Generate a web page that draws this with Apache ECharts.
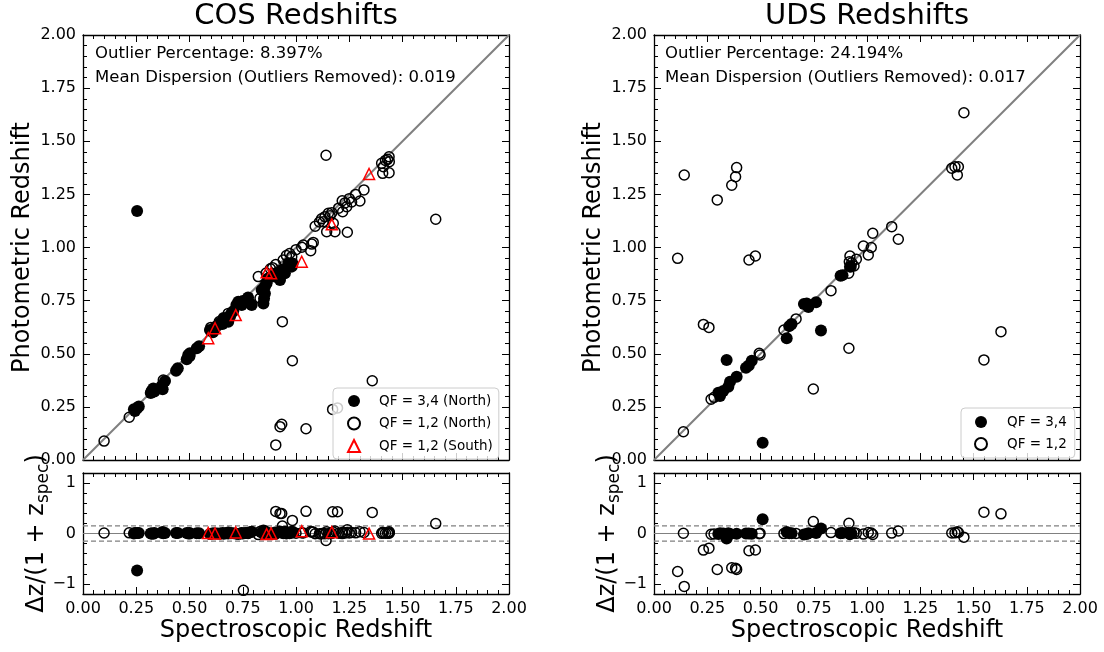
<!DOCTYPE html>
<html>
<head>
<meta charset="utf-8">
<title>COS / UDS Redshifts</title>
<script src="https://cdn.jsdelivr.net/npm/echarts@6/dist/echarts.min.js"></script>
<style>
  html, body { margin: 0; padding: 0; background: #ffffff; }
  #chart { width: 1104px; height: 652px; }
</style>
</head>
<body>
<div id="chart"></div>
<script>
// Each point is [spectroscopic z, photometric z]

// COS, QF = 3,4 (North)
const cosNorthHigh = [
  [0.254, 1.172],
  [0.244, 0.231], [0.239, 0.239], [0.255, 0.245], [0.262, 0.252],
  [0.318, 0.315], [0.322, 0.325], [0.330, 0.337], [0.335, 0.322], [0.374, 0.333], [0.369, 0.348], [0.385, 0.372],
  [0.437, 0.420], [0.445, 0.432],
  [0.487, 0.474], [0.494, 0.494], [0.500, 0.488], [0.502, 0.502],
  [0.534, 0.526], [0.545, 0.535],
  [0.596, 0.612], [0.610, 0.601], [0.620, 0.624], [0.630, 0.632], [0.643, 0.646], [0.655, 0.640],
  [0.660, 0.668], [0.667, 0.659], [0.675, 0.668], [0.682, 0.651], [0.690, 0.675], [0.695, 0.688], [0.705, 0.700],
  [0.720, 0.730], [0.729, 0.745], [0.740, 0.738], [0.745, 0.729], [0.750, 0.748], [0.761, 0.745], [0.770, 0.752],
  [0.775, 0.765], [0.784, 0.737], [0.792, 0.729],
  [0.839, 0.800], [0.847, 0.737], [0.850, 0.760], [0.854, 0.784], [0.854, 0.816], [0.862, 0.832], [0.870, 0.855],
  [0.901, 0.863], [0.910, 0.880], [0.925, 0.847], [0.933, 0.894], [0.948, 0.879], [0.964, 0.926], [0.980, 0.910],
  [0.984, 0.925]
];

// COS, QF = 1,2 (North)
const cosNorthLow = [
  [0.099, 0.089], [0.217, 0.201], [0.377, 0.376], [0.600, 0.624], [0.640, 0.652], [0.682, 0.690],
  [0.823, 0.863], [0.831, 0.761], [0.936, 0.651], [0.983, 0.467],
  [0.905, 0.071], [0.925, 0.157], [0.933, 0.168], [1.047, 0.147], [1.172, 0.238], [1.195, 0.245],
  [1.358, 0.373], [0.753, 2.730],
  [0.860, 0.880], [0.880, 0.900], [0.890, 0.905], [0.905, 0.920], [0.940, 0.941], [0.955, 0.962],
  [0.970, 0.972], [0.980, 0.957], [1.000, 0.990],
  [1.027, 1.001], [1.034, 1.012], [1.069, 0.985], [1.074, 1.016], [1.081, 1.024], [1.090, 1.100],
  [1.110, 1.120], [1.120, 1.135], [1.128, 1.121], [1.136, 1.145], [1.144, 1.074], [1.152, 1.161],
  [1.160, 1.150], [1.168, 1.164], [1.175, 1.114], [1.183, 1.074],
  [1.200, 1.185], [1.217, 1.220], [1.219, 1.168], [1.230, 1.210], [1.238, 1.192], [1.241, 1.072],
  [1.250, 1.230], [1.261, 1.214], [1.280, 1.250], [1.300, 1.219], [1.319, 1.271],
  [1.141, 1.434],
  [1.402, 1.396], [1.407, 1.349], [1.410, 1.380], [1.420, 1.410], [1.430, 1.415], [1.437, 1.427],
  [1.438, 1.404], [1.437, 1.352],
  [1.656, 1.133]
];

// COS, QF = 1,2 (South)
const cosSouthLow = [
  [0.588, 0.573], [0.620, 0.620], [0.717, 0.682], [0.862, 0.883],
  [0.883, 0.879], [1.027, 0.933], [1.168, 1.109], [1.343, 1.346]
];

// UDS, QF = 3,4
const udsHigh = [
  [0.302, 0.317], [0.310, 0.301], [0.325, 0.325], [0.341, 0.471], [0.349, 0.345], [0.357, 0.368],
  [0.388, 0.392], [0.432, 0.434], [0.445, 0.445], [0.459, 0.467], [0.510, 0.081], [0.623, 0.573],
  [0.635, 0.630], [0.646, 0.640], [0.704, 0.734], [0.717, 0.737], [0.725, 0.720], [0.761, 0.742],
  [0.784, 0.609], [0.876, 0.867], [0.885, 0.870], [0.920, 0.910]
];

// UDS, QF = 1,2
const udsLow = [
  [0.111, 0.949], [0.138, 0.133], [0.142, 1.341], [0.232, 0.638], [0.258, 0.624], [0.268, 0.286],
  [0.282, 0.295], [0.297, 1.224], [0.365, 1.293], [0.383, 1.333], [0.388, 1.376], [0.446, 0.941],
  [0.476, 0.960], [0.494, 0.502], [0.498, 0.494], [0.610, 0.612], [0.667, 0.664], [0.748, 0.334],
  [0.831, 0.797], [0.914, 0.879], [0.915, 0.526], [0.917, 0.933], [0.920, 0.960], [0.925, 0.910],
  [0.928, 0.928], [0.939, 0.913], [0.950, 0.945], [0.983, 1.007], [1.006, 0.965], [1.020, 1.000],
  [1.027, 1.067], [1.116, 1.098], [1.147, 1.039], [1.398, 1.373], [1.413, 1.380], [1.424, 1.341],
  [1.429, 1.380], [1.455, 1.634], [1.549, 0.471], [1.629, 0.604]
];

const cosTitle = 'COS Redshifts';
const udsTitle = 'UDS Redshifts';
const cosStats = ['Outlier Percentage: 8.397%', 'Mean Dispersion (Outliers Removed): 0.019'];
const udsStats = ['Outlier Percentage: 24.194%', 'Mean Dispersion (Outliers Removed): 0.017'];
const cosNames = ['QF = 3,4 (North)', 'QF = 1,2 (North)', 'QF = 1,2 (South)'];
const udsNames = ['QF = 3,4', 'QF = 1,2'];
const xName = 'Spectroscopic Redshift';
const yName = 'Photometric Redshift';
const residTicks = [-1, 0, 1];
const outlierCut = 0.15;

// dz / (1 + z_spec), with dz = z_spec - z_phot
function residuals(pts) {
  return pts.map(([zs, zp]) => [zs, (zs - zp) / (1 + zs)]);
}

const FONT = 'DejaVu Sans';
const BLACK = '#000000';
const GREY = '#808080';
const RED = '#ff0000';

const grids = [
  { left: 83,  top: 35,  width: 426, height: 425 },
  { left: 83,  top: 473, width: 426, height: 121 },
  { left: 654, top: 35,  width: 426, height: 425 },
  { left: 654, top: 473, width: 426, height: 121 }
];

const spine = { show: true, onZero: false, lineStyle: { color: BLACK, width: 1.3 } };
const tickFont = { fontFamily: FONT, fontSize: 16, color: BLACK };

function xAx(gi, pos, labels) {
  return {
    type: 'value', gridIndex: gi, position: pos, min: 0, max: 2, interval: 0.25,
    axisLine: spine,
    axisTick: { show: true, inside: true, length: 7, lineStyle: { color: BLACK, width: 1 } },
    minorTick: { show: true, splitNumber: 5, length: 4, lineStyle: { color: BLACK, width: 1 } },
    splitLine: { show: false }, minorSplitLine: { show: false },
    axisLabel: Object.assign({ show: labels, margin: 7, showMinLabel: true, showMaxLabel: true,
      formatter: v => v.toFixed(2) }, tickFont)
  };
}

function yMainAx(gi, pos, labels) {
  return {
    type: 'value', gridIndex: gi, position: pos, min: 0, max: 2, interval: 0.25,
    axisLine: spine,
    axisTick: { show: true, inside: true, length: 7, lineStyle: { color: BLACK, width: 1 } },
    minorTick: { show: true, splitNumber: 5, length: 4, lineStyle: { color: BLACK, width: 1 } },
    splitLine: { show: false }, minorSplitLine: { show: false },
    axisLabel: Object.assign({ show: labels, margin: 7, showMinLabel: true, showMaxLabel: true,
      formatter: v => v.toFixed(2) }, tickFont)
  };
}

function yResAx(gi, pos, labels) {
  return {
    type: 'value', gridIndex: gi, position: pos, min: -1.2, max: 1.2,
    axisLine: spine,
    axisTick: { show: true, inside: true, length: 7, customValues: residTicks,
      lineStyle: { color: BLACK, width: 1 } },
    splitLine: { show: false },
    axisLabel: Object.assign({ show: labels, margin: 7, customValues: residTicks,
      formatter: v => (v < 0 ? '\u2212' + (-v) : String(v)) }, tickFont)
  };
}

// minor ticks every 0.2 on the residual axes
function yResMinor(gi, pos) {
  return {
    type: 'value', gridIndex: gi, position: pos, min: -1.2, max: 1.2, interval: 0.2,
    axisLine: { show: false, onZero: false },
    axisTick: { show: true, inside: true, length: 4, lineStyle: { color: BLACK, width: 1 } },
    splitLine: { show: false },
    axisLabel: { show: false }
  };
}

const xAxes = [];
const yAxes = [];
const refs = [];
grids.forEach((g, gi) => {
  const resid = gi % 2 === 1;
  const xi = xAxes.length;
  xAxes.push(xAx(gi, 'bottom', resid));
  xAxes.push(xAx(gi, 'top', false));
  const yi = yAxes.length;
  if (resid) {
    yAxes.push(yResAx(gi, 'left', true));
    yAxes.push(yResAx(gi, 'right', false));
    yAxes.push(yResMinor(gi, 'left'));
    yAxes.push(yResMinor(gi, 'right'));
  } else {
    yAxes.push(yMainAx(gi, 'left', true));
    yAxes.push(yMainAx(gi, 'right', false));
  }
  refs.push({ xAxisIndex: xi, yAxisIndex: yi });
});

const filledStyle = { symbol: 'circle', symbolSize: 12, itemStyle: { color: BLACK, opacity: 1 } };
const openStyle = { symbol: 'circle', symbolSize: 10,
  itemStyle: { color: 'rgba(255,255,255,0)', borderColor: BLACK, borderWidth: 1.5, opacity: 1 } };
const triStyle = { symbol: 'triangle', symbolSize: 11,
  itemStyle: { color: 'rgba(255,255,255,0)', borderColor: RED, borderWidth: 1.5, opacity: 1 } };

function scatter(ref, name, data, style) {
  return Object.assign({ type: 'scatter', name, data, clip: true, z: 3,
    emphasis: { disabled: true } }, ref, style);
}

function refLine(ref, data, width, type) {
  return Object.assign({ type: 'line', data, showSymbol: false, symbol: 'none', silent: true, z: 2,
    lineStyle: { color: GREY, width, type } }, ref);
}

function residLines(ref) {
  return [
    refLine(ref, [[0, 0], [2, 0]], 1, 'solid'),
    refLine(ref, [[0, outlierCut], [2, outlierCut]], 1.2, [5, 3]),
    refLine(ref, [[0, -outlierCut], [2, -outlierCut]], 1.2, [5, 3])
  ];
}

const series = [
  // COS main
  refLine(refs[0], [[0, 0], [2, 2]], 2, 'solid'),
  scatter(refs[0], cosNames[0], cosNorthHigh, filledStyle),
  scatter(refs[0], cosNames[1], cosNorthLow, openStyle),
  scatter(refs[0], cosNames[2], cosSouthLow, triStyle),
  // COS residuals
  ...residLines(refs[1]),
  scatter(refs[1], cosNames[0], residuals(cosNorthHigh), filledStyle),
  scatter(refs[1], cosNames[1], residuals(cosNorthLow), openStyle),
  scatter(refs[1], cosNames[2], residuals(cosSouthLow), triStyle),
  // UDS main
  refLine(refs[2], [[0, 0], [2, 2]], 2, 'solid'),
  scatter(refs[2], udsNames[0], udsHigh, filledStyle),
  scatter(refs[2], udsNames[1], udsLow, openStyle),
  // UDS residuals
  ...residLines(refs[3]),
  scatter(refs[3], udsNames[0], residuals(udsHigh), filledStyle),
  scatter(refs[3], udsNames[1], residuals(udsLow), openStyle)
];

const legendBase = {
  orient: 'vertical', itemWidth: 12, itemHeight: 12,
  backgroundColor: 'rgba(255,255,255,0.8)', borderColor: '#cccccc', borderWidth: 1, borderRadius: 4,
  selectedMode: false
};
const legendText = pad => ({ fontFamily: FONT, fontSize: 13.5, color: BLACK, padding: [0, 0, 0, pad] });

function text(x, y, str, size, opts) {
  return Object.assign({
    type: 'text', x, y, silent: true,
    style: Object.assign({
      text: str, fontFamily: FONT, fontSize: size, fill: BLACK,
      align: 'center', verticalAlign: 'middle', textAlign: 'center', textVerticalAlign: 'middle'
    }, (opts && opts.style) || {})
  }, opts && opts.rotation ? { rotation: opts.rotation } : {});
}

const leftStyle = { style: { align: 'left', textAlign: 'left' } };
const residLabel = '{a|\u0394z/(1 + z}{b|spec}{a|)}';
const residRich = {
  a: { fontFamily: FONT, fontSize: 24, lineHeight: 30, color: BLACK },
  b: { fontFamily: FONT, fontSize: 17, lineHeight: 30, verticalAlign: 'bottom', color: BLACK }
};

const graphics = [];
[[296, 83, cosTitle, cosStats, 95], [867, 654, udsTitle, udsStats, 665]].forEach(([cx, gl, title, stats, sx]) => {
  graphics.push(text(cx, 16, title, 29));
  graphics.push(text(cx, 631, xName, 24));
  graphics.push(text(gl - 60.5, 247.5, yName, 24, { rotation: Math.PI / 2 }));
  graphics.push(text(gl - 46, 533.5, residLabel, 24, { rotation: Math.PI / 2, style: { rich: residRich } }));
  graphics.push(text(sx, 54, stats[0], 16.5, leftStyle));
  graphics.push(text(sx, 77.3, stats[1], 16.5, leftStyle));
});

const option = {
  animation: false,
  backgroundColor: '#ffffff',
  grid: grids,
  xAxis: xAxes,
  yAxis: yAxes,
  legend: [
    Object.assign({ data: cosNames, left: 333, top: 388, padding: [6, 6, 6, 14], itemGap: 8.5,
      textStyle: legendText(14) }, legendBase),
    Object.assign({ data: udsNames, left: 961, top: 408, padding: [7, 8, 7, 13], itemGap: 8,
      textStyle: legendText(15) }, legendBase)
  ],
  series,
  graphic: graphics
};

const chart = echarts.init(document.getElementById('chart'), null, { renderer: 'canvas' });
chart.setOption(option);
</script>
</body>
</html>
